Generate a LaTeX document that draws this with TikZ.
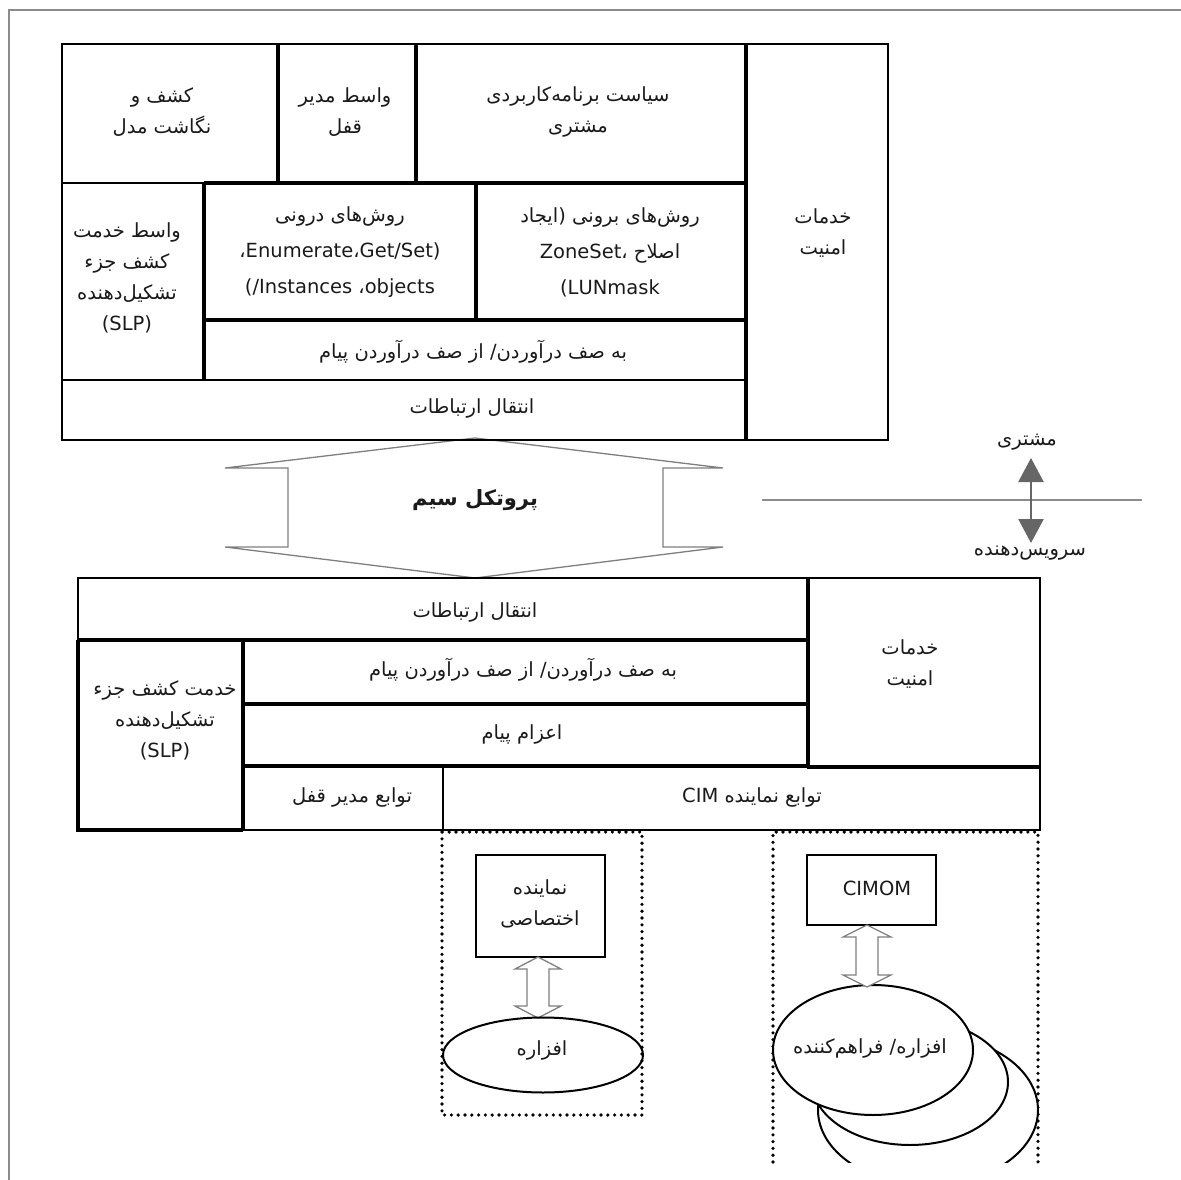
\documentclass[tikz,border=0pt]{standalone}
\usepackage{fontspec}
\newfontfamily\fa[Script=Arabic]{DejaVu Sans}
\TeXXeTstate=1
\newcommand\rtlx[1]{\beginR#1\endR}
\usetikzlibrary{arrows.meta,shapes.geometric}
\definecolor{frameg}{HTML}{8C8C8C}
\definecolor{arrg}{HTML}{7F7F7F}
\definecolor{darkg}{HTML}{666666}
\definecolor{ink}{HTML}{1A1A1A}
\begin{document}
\begin{tikzpicture}[x=1pt,y=-1pt,
  cell/.style={draw, line width=2pt, inner sep=0pt},
  divider/.style={line width=4pt},
  txt/.style={font=\fa\fontsize{19.5}{31}\selectfont, text=ink, align=center, inner sep=0pt},
  txtw/.style={font=\fa\fontsize{19.5}{36}\selectfont, text=ink, align=center, inner sep=0pt},
  hollow/.style={draw=arrg, line width=1.3pt, fill=white, line join=miter},
  dotbox/.style={line width=3.6pt, dash pattern=on 0pt off 6.8pt, line cap=round}]
\useasboundingbox (0,0) rectangle (1181,1180);
% outer frame
\draw[frameg, line width=2pt] (1181,10) -- (9,10) -- (9,1180);

% wire protocol arrow
\draw[hollow] (475,438) -- (723,468) -- (663,468) -- (663,547) -- (723,547) -- (475,578)
  -- (225,547) -- (288,547) -- (288,468) -- (225,468) -- cycle;
\node[txt, font=\fa\bfseries\fontsize{21}{31}\selectfont] (tproto) at (475,500) {\rtlx{پروتکل سیم}};

% ---------- top block ----------
\node[cell, minimum width=216, minimum height=139] (kashf) at (170,113.5) {};
\node[cell, minimum width=138, minimum height=139] (vqofl) at (347,113.5) {};
\node[cell, minimum width=330, minimum height=139] (siasat) at (581,113.5) {};
\node[cell, minimum width=142, minimum height=396] (amn1) at (817,242) {};
\node[cell, minimum width=142, minimum height=197] (slp1) at (133,281.5) {};
\node[cell, minimum width=272, minimum height=137] (darun) at (340,251.5) {};
\node[cell, minimum width=270, minimum height=137] (borun) at (611,251.5) {};
\node[cell, minimum width=542, minimum height=60] (saf1) at (475,350) {};
\node[cell, minimum width=684, minimum height=60] (ent1) at (404,410) {};
\draw[divider] (278,44) -- (278,183);
\draw[divider] (416,44) -- (416,183);
\draw[divider] (746,44) -- (746,440);
\draw[divider] (204,183) -- (746,183);
\draw[divider] (204,183) -- (204,380);
\draw[divider] (476,183) -- (476,320);
\draw[divider] (204,320) -- (746,320);

\node[txt] (tkashf) at (162,112) {\rtlx{کشف و}\\\rtlx{نگاشت مدل}};
\node[txt] (tvqofl) at (345,112) {\rtlx{واسط مدیر}\\\rtlx{قفل}};
\node[txt] (tsiasat) at (578,112) {\rtlx{سیاست برنامه‌کاربردی}\\\rtlx{مشتری}};
\node[txt] (tamn1) at (823,233) {\rtlx{خدمات}\\\rtlx{امنیت}};
\node[txt] (tslp1) at (127,278) {\rtlx{واسط خدمت}\\\rtlx{کشف جزء}\\\rtlx{تشکیل‌دهنده}\\(SLP)};
\node[txtw] (tdarun) at (340,252) {\rtlx{روش‌های درونی}\\،Enumerate،Get/Set)\\(/Instances ،objects};
\node[txtw] (tborun) at (610,252) {\rtlx{روش‌های برونی (ایجاد}\\ZoneSet\mbox{،} \rtlx{اصلاح}\\(LUNmask};
\node[txt] (tsaf1) at (473,352) {\rtlx{به صف درآوردن/ از صف درآوردن پیام}};
\node[txt] (tent1) at (472,408) {\rtlx{انتقال ارتباطات}};

% client / server marker
\draw[frameg, line width=2pt] (762,500) -- (1142,500);
\draw[darkg, line width=2.5pt, {Triangle[width=25pt,length=24pt]}-{Triangle[width=25pt,length=24pt]}] (1031,458) -- (1031,543);
\node[txt] (tmosh) at (1027,442) {\rtlx{مشتری}};
\node[txt] (tserv) at (1030,553) {\rtlx{سرویس‌دهنده}};

% ---------- bottom block ----------
\node[cell, minimum width=730, minimum height=62] (ent2) at (443,609) {};
\node[cell, minimum width=232, minimum height=190] (amn2) at (924,673) {};
\node[cell, minimum width=165, minimum height=190] (slp2) at (160.5,735) {};
\node[cell, minimum width=565, minimum height=64] (saf2) at (525.5,672) {};
\node[cell, minimum width=565, minimum height=62] (ezam) at (525.5,735) {};
\node[cell, minimum width=200, minimum height=64] (tqofl) at (343,798) {};
\node[cell, minimum width=597, minimum height=64] (tcim) at (741.5,798) {};
\draw[divider] (243,640) -- (243,830);
\draw[divider] (78,640) -- (808,640);
\draw[divider] (808,578) -- (808,768);
\draw[divider] (243,704) -- (808,704);
\draw[divider] (243,766) -- (808,766);
\draw[divider] (78,640) -- (78,830) -- (243,830);

\node[txt] (tent2) at (475,612) {\rtlx{انتقال ارتباطات}};
\node[txt] (tamn2) at (910,664) {\rtlx{خدمات}\\\rtlx{امنیت}};
\node[txt] (tslp2) at (165,720) {\rtlx{خدمت کشف جزء}\\\rtlx{تشکیل‌دهنده}\\(SLP)};
\node[txt] (tsaf2) at (523,670) {\rtlx{به صف درآوردن/ از صف درآوردن پیام}};
\node[txt] (tezam) at (522,734) {\rtlx{اعزام پیام}};
\node[txt] (ttqofl) at (352,797) {\rtlx{توابع مدیر قفل}};
\node[txt] (ttcim) at (752,797) {CIM \rtlx{توابع نماینده}};

% ---------- lower parts ----------
\draw[dotbox] (442,832) -- (442,1115) -- (642,1115) -- (642,832) -- cycle;
\draw[dotbox] (773,1162) -- (773,832) -- (1038,832) -- (1038,1162);

\node[cell, minimum width=129, minimum height=102] (agent) at (540.5,906) {};
\node[txt] (tagent) at (540,904) {\rtlx{نماینده}\\\rtlx{اختصاصی}};
\node[cell, minimum width=129, minimum height=70] (cimom) at (871.5,890) {};
\node[txt] (tcimom) at (877,888) {CIMOM};

\draw[hollow] (538,957) -- (561,969) -- (549,969) -- (549,1006) -- (561,1006) -- (538,1018)
  -- (515,1006) -- (527,1006) -- (527,969) -- (515,969) -- cycle;
\node[draw, line width=2pt, ellipse, minimum width=200, minimum height=75, inner sep=0pt] (hw) at (543,1055) {};
\node[txt] (thw) at (542,1050) {\rtlx{افزاره}};

\begin{scope}
\clip (700,900) rectangle (1100,1162);
\draw[line width=2pt, fill=white] (928,1110) ellipse [x radius=110, y radius=75];
\draw[line width=2pt, fill=white] (910,1082) ellipse [x radius=98, y radius=63];
\end{scope}
\node[draw, line width=2pt, fill=white, ellipse, minimum width=200, minimum height=130, inner sep=0pt] (prov) at (873,1050) {};
\node[txt] (tprov) at (870,1048) {\rtlx{افزاره/ فراهم‌کننده}};
\draw[hollow] (867,925) -- (891,937) -- (878,937) -- (878,975) -- (891,975) -- (867,987)
  -- (843,975) -- (856,975) -- (856,937) -- (843,937) -- cycle;
\end{tikzpicture}
\end{document}
